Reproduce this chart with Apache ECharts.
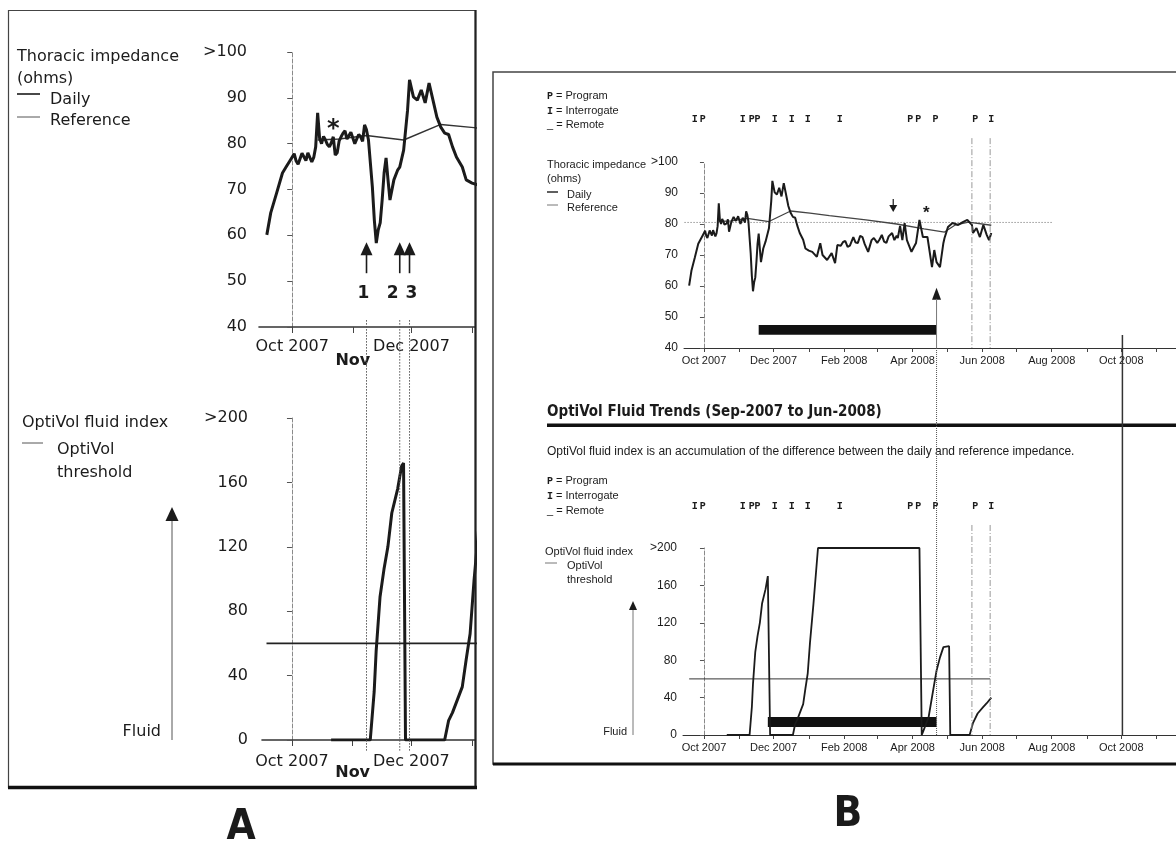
<!DOCTYPE html>
<html><head><meta charset="utf-8">
<script src="https://cdn.jsdelivr.net/npm/echarts@6/dist/echarts.min.js"></script>
<style>html,body{margin:0;padding:0;background:#fff}#c{width:1176px;height:848px}</style>
</head><body><div id="c"></div>
<script>
// ---------------- DATA ----------------
const monthTickDates = ['2007-10-01','2007-11-01','2007-12-01','2008-01-01','2008-02-01','2008-03-01','2008-04-01','2008-05-01','2008-06-01','2008-07-01','2008-08-01','2008-09-01','2008-10-01','2008-11-01'];
const panelALabels = [['2007-10-01','Oct 2007'],['2007-11-01','Nov'],['2007-12-01','Dec 2007']];
const panelBLabels = [['2007-10-01','Oct 2007'],['2007-12-01','Dec 2007'],['2008-02-01','Feb 2008'],['2008-04-01','Apr 2008'],['2008-06-01','Jun 2008'],['2008-08-01','Aug 2008'],['2008-10-01','Oct 2008']];

const dailyImpedance = [
 ['2007-09-18',60.1],['2007-09-20',64.9],['2007-09-23',69.2],['2007-09-26',73.6],['2007-09-28',75.0],['2007-09-30',76.4],
 ['2007-10-01',77.1],['2007-10-02',77.8],['2007-10-03',76.2],['2007-10-04',75.5],['2007-10-05',75.8],['2007-10-06',77.9],
 ['2007-10-07',77.5],['2007-10-08',76.3],['2007-10-09',78.0],['2007-10-10',78.4],['2007-10-11',76.0],['2007-10-12',77.0],
 ['2007-10-13',79.3],['2007-10-14',86.7],['2007-10-15',81.2],['2007-10-16',80.0],['2007-10-17',81.6],['2007-10-18',80.8],
 ['2007-10-19',79.8],['2007-10-20',79.3],['2007-10-21',80.2],['2007-10-22',81.5],['2007-10-23',77.5],['2007-10-24',78.0],
 ['2007-10-25',80.6],['2007-10-26',81.5],['2007-10-27',82.3],['2007-10-28',82.8],['2007-10-29',81.0],['2007-10-30',81.2],
 ['2007-10-31',82.5],['2007-11-01',82.6],['2007-11-02',80.0],['2007-11-03',80.1],['2007-11-04',82.0],['2007-11-05',81.5],
 ['2007-11-06',80.5],['2007-11-07',84.1],['2007-11-08',83.0],['2007-11-09',80.8],['2007-11-11',70.5],['2007-11-12',63.3],
 ['2007-11-13',58.3],['2007-11-14',61.2],['2007-11-15',62.7],['2007-11-16',67.7],['2007-11-17',73.6],['2007-11-18',76.9],
 ['2007-11-19',72.1],['2007-11-20',67.7],['2007-11-22',72.1],['2007-11-24',74.3],['2007-11-25',74.9],['2007-11-27',78.6],
 ['2007-11-29',87.3],['2007-11-30',93.9],['2007-12-02',90.2],['2007-12-04',89.5],['2007-12-06',91.7],['2007-12-08',88.9],
 ['2007-12-10',93.2],['2007-12-12',89.5],['2007-12-14',85.8],['2007-12-16',83.6],['2007-12-18',82.3],['2007-12-20',82.0],
 ['2007-12-22',79.3],['2007-12-24',77.1],['2007-12-27',74.9],['2007-12-29',72.1],['2008-01-01',71.4],['2008-01-04',71.0],
 ['2008-01-08',69.4],['2008-01-11',73.8],['2008-01-13',70.0],['2008-01-17',68.4],['2008-01-21',70.6],['2008-01-24',67.4],
 ['2008-01-26',73.2],['2008-01-29',73.0],['2008-01-31',74.2],['2008-02-02',74.5],['2008-02-04',72.6],['2008-02-06',73.0],
 ['2008-02-09',75.8],['2008-02-11',74.0],['2008-02-13',73.9],['2008-02-15',76.2],['2008-02-17',75.8],['2008-02-19',73.5],
 ['2008-02-22',71.0],['2008-02-25',74.8],['2008-02-27',75.5],['2008-03-01',73.9],['2008-03-03',75.0],['2008-03-05',76.5],
 ['2008-03-07',74.3],['2008-03-09',73.9],['2008-03-11',76.0],['2008-03-14',77.1],['2008-03-16',74.8],['2008-03-18',76.2],
 ['2008-03-19',75.5],['2008-03-21',79.4],['2008-03-23',74.8],['2008-03-25',80.3],['2008-03-27',74.8],['2008-03-31',71.0],
 ['2008-04-02',72.5],['2008-04-04',73.9],['2008-04-07',81.3],['2008-04-10',75.8],['2008-04-14',75.8],['2008-04-18',66.1],
 ['2008-04-20',71.6],['2008-04-22',67.7],['2008-04-25',66.1],['2008-04-28',73.9],['2008-04-29',75.5],['2008-05-02',79.0],
 ['2008-05-06',80.3],['2008-05-11',79.7],['2008-05-15',80.6],['2008-05-19',81.3],['2008-05-23',79.7],['2008-05-24',77.1],
 ['2008-05-27',78.7],['2008-05-30',75.8],['2008-06-02',79.7],['2008-06-05',76.5],['2008-06-07',74.8],['2008-06-09',77.1]
];
const referenceImpedance = [
 ['2007-10-14',80.8],['2007-10-25',81.0],['2007-11-08',81.8],['2007-11-27',80.8],['2007-12-16',84.2],['2008-01-02',83.5],
 ['2008-01-19',82.7],['2008-02-20',81.3],['2008-03-18',80.0],['2008-04-11',78.4],['2008-04-29',77.4],['2008-05-08',79.6],
 ['2008-05-20',80.6],['2008-06-09',79.6]
];
const referenceLevel = [['2007-09-14',80.5],['2008-08-01',80.5]];

const fluidIndex = [
 ['2007-10-21',0],['2007-11-10',0],['2007-11-12',30],['2007-11-13',55],['2007-11-15',89],['2007-11-17',106],['2007-11-19',120],
 ['2007-11-21',141],['2007-11-24',156],['2007-11-26',170],['2007-11-27',172],['2007-11-28',0],['2007-12-18',0],['2007-12-20',12],
 ['2007-12-22',17],['2007-12-27',33],['2007-12-29',50],['2007-12-31',66],['2008-01-02',99],['2008-01-05',140],['2008-01-09',200],
 ['2008-04-07',200],['2008-04-09',0],['2008-04-10',3],['2008-04-15',19],['2008-04-20',55],['2008-04-22',69],['2008-04-25',83],
 ['2008-04-28',94],['2008-05-03',95],['2008-05-04',0],['2008-05-21',0],['2008-05-24',13],['2008-05-28',23],['2008-06-02',30],
 ['2008-06-05',34],['2008-06-09',40]
];
const fluidThreshold = [['2007-09-18',60],['2008-06-08',60]];

const sessions = [['2007-09-23','I'],['2007-09-30','P'],['2007-11-04','I'],['2007-11-12','P'],['2007-11-17','P'],['2007-12-02','I'],
 ['2007-12-17','I'],['2007-12-31','I'],['2008-01-28','I'],['2008-03-30','P'],['2008-04-06','P'],['2008-04-21','P'],['2008-05-26','P'],['2008-06-09','I']];
const sessionLines = ['2008-05-23','2008-06-08'];
const panelAEvents = [['2007-11-08','1'],['2007-11-25','2'],['2007-11-30','3']];
const treatmentBarImp = ['2007-11-18','2008-04-22',44.3,47.4];
const treatmentBarFluid = ['2007-11-26','2008-04-22',8.6,19.3];
const eventArrowB = ['2008-04-22',59.4];
const downArrowB = ['2008-03-15',88.1,83.9];
const asteriskA = ['2007-10-22',84.1];
const asteriskB = ['2008-04-13',84.5];
const laterLine = '2008-10-02';

// ---------------- HELPERS ----------------
const DAY0 = Date.UTC(2007,9,1);
function d(s){const p=s.split('-').map(Number);return Math.round((Date.UTC(p[0],p[1]-1,p[2])-DAY0)/86400000);}
const pts = a => a.map(r => [d(r[0]), r[1]]);
const INK = '#1b1b1b';
const FA = 'DejaVu Sans';
const FB = 'Liberation Sans';

function xAxisFor(gi,min,max,labels,st){
  const ticks = monthTickDates.map(d).filter(v=>v>=min&&v<=max);
  const map = {}; labels.forEach(l=>{map[d(l[0])]=l[1];});
  return {type:'value',gridIndex:gi,min,max,
    axisLine:{show:true,onZero:false,lineStyle:{color:'#333',width:st.aw}},
    axisTick:{show:true,length:st.tl,customValues:ticks,lineStyle:{color:'#444',width:1}},
    axisLabel:{show:true,customValues:Object.keys(map).map(Number),hideOverlap:false,
      formatter:v=>{const t=map[Math.round(v)];if(t===undefined)return '';return t==='Nov'?'{nov|Nov}':t;},
      fontFamily:st.f,fontSize:st.fs,color:INK,margin:st.m,
      rich:{nov:{fontFamily:st.f,fontSize:st.fs,fontWeight:'bold',color:INK,padding:[st.np||0,0,0,0]}}},
    splitLine:{show:false}};
}
function yAxisFor(gi,min,max,interval,top,st){
  return {type:'value',gridIndex:gi,min,max,interval,
    axisLine:{show:true,lineStyle:{color:'#8a8a8a',type:'dashed',width:1}},
    axisTick:{show:true,length:st.tl,lineStyle:{color:'#555'}},
    axisLabel:{formatter:v=>v===max?top:String(v),fontFamily:st.f,fontSize:st.fs,color:INK,margin:st.m},
    splitLine:{show:false}};
}
function lineS(gi,data,w,color,extra){
  return Object.assign({type:'line',xAxisIndex:gi,yAxisIndex:gi,data,symbol:'none',showSymbol:false,silent:true,clip:true,
    lineStyle:{width:w,color:color},z:3},extra||{});
}
function barArea(b){return {silent:true,itemStyle:{color:'#111'},data:[[{coord:[d(b[0]),b[2]]},{coord:[d(b[1]),b[3]]}]]};}

const stA = {f:FA,fs:16,tl:6,m:12,aw:1.6,np:14};
const stA2 = {f:FA,fs:16,tl:6,m:14,aw:1.6,np:11};
const stB = {f:FB,fs:11,tl:4,m:7,aw:1};

const chart = echarts.init(document.getElementById('c'));
chart.setOption({
  animation:false, backgroundColor:'#fff',
  grid:[{left:259,top:52,width:216,height:275},{left:262,top:418,width:213,height:322},
        {left:684,top:162,width:492,height:186},{left:683,top:548,width:493,height:187}],
  xAxis:[xAxisFor(0,-17,93.5,panelALabels,stA),xAxisFor(1,-15.3,93.5,panelALabels,stA2),
         xAxisFor(2,-17.5,414,panelBLabels,stB),xAxisFor(3,-18.4,414,panelBLabels,stB)],
  yAxis:[yAxisFor(0,40,100,10,'>100',{f:FA,fs:16,tl:5,m:12}),yAxisFor(1,0,200,40,'>200',{f:FA,fs:16,tl:5,m:14}),
         yAxisFor(2,40,100,10,'>100',{f:FB,fs:12,tl:4,m:6}),yAxisFor(3,0,200,40,'>200',{f:FB,fs:12,tl:4,m:6})],
  series:[
    lineS(0,pts(referenceImpedance),1.5,'#333'),
    lineS(0,pts(dailyImpedance),3,INK),
    lineS(1,pts(fluidThreshold),1.6,'#222'),
    lineS(1,pts(fluidIndex),3,INK),
    lineS(2,pts(referenceLevel),1,'#666',{lineStyle:{width:1,color:'#666',type:[1,2]}}),
    lineS(2,pts(referenceImpedance),1.3,'#444'),
    lineS(2,pts(dailyImpedance),2,INK,{markArea:barArea(treatmentBarImp)}),
    lineS(3,pts(fluidThreshold),1,'#333'),
    lineS(3,pts(fluidIndex),1.8,INK,{markArea:barArea(treatmentBarFluid)})
  ]
});

// ---------------- ANNOTATIONS (positions via axis scales) ----------------
const P = (gi,date,val)=>chart.convertToPixel({xAxisIndex:gi,yAxisIndex:gi},[d(date),val]);
const g = [];
function L(x1,y1,x2,y2,st){g.push({type:'line',silent:true,z:10,shape:{x1,y1,x2,y2},style:Object.assign({stroke:INK,lineWidth:1},st||{})});}
function T(x,y,t,st){const s=Object.assign({text:t,fill:INK,textAlign:'left',align:'left',textVerticalAlign:'middle',verticalAlign:'middle'},st||{});
  if(s.textAlign){s.align=s.textAlign;} g.push({type:'text',silent:true,z:10,x,y,style:s});}
function Tri(pts,fill){g.push({type:'polygon',silent:true,z:10,shape:{points:pts},style:{fill:fill||INK}});}

// frames
g.push({type:'rect',silent:true,z:1,shape:{x:8.5,y:10.5,width:467,height:777},style:{fill:'none',stroke:'#444',lineWidth:1.2}});
L(475.5,10,475.5,788,{lineWidth:2.2,stroke:'#222'});
L(8,787.5,477,787.5,{lineWidth:3.5,stroke:'#111'});
g.push({type:'rect',silent:true,z:1,shape:{x:493,y:72,width:700,height:692},style:{fill:'none',stroke:'#444',lineWidth:1.5}});
L(493,764,1176,764,{lineWidth:3,stroke:'#111'});

// panel A legends
const fa = {fontFamily:FA,fontSize:16};
T(17,57,'Thoracic impedance',fa); T(17,79,'(ohms)',fa);
L(17,94,40,94,{lineWidth:1.6}); T(50,100,'Daily',fa);
L(17,117,40,117,{lineWidth:1,stroke:'#555'}); T(50,121,'Reference',fa);
T(22,423,'OptiVol fluid index',fa);
L(22,443,43,443,{lineWidth:1,stroke:'#555'}); T(57,450,'OptiVol',fa); T(57,473,'threshold',fa);
L(172,520,172,740,{lineWidth:1,stroke:'#555'}); Tri([[172,507],[165.5,521],[178.5,521]]);
T(161,732,'Fluid',Object.assign({textAlign:'right'},fa));

// panel A asterisk
{const p=P(0,asteriskA[0],asteriskA[1]); T(p[0],p[1]+5,'*',{fontFamily:FA,fontSize:24,fontWeight:'bold',textAlign:'center'});}
// panel A events (number labels nudged apart as in the original)
const eventLabelNudge = [-3,-7,2];
panelAEvents.forEach((e,i)=>{
  const tip=P(0,e[0],58.5); const x=tip[0];
  Tri([[x,tip[1]],[x-6,tip[1]+13],[x+6,tip[1]+13]]);
  L(x,tip[1]+12,x,tip[1]+31,{lineWidth:1.6});
  T(x+eventLabelNudge[i],tip[1]+51,e[1],{fontFamily:FA,fontSize:17,fontWeight:'bold',textAlign:'center'});
  const top=P(0,e[0],41.5)[1], bot=P(1,e[0],-7.5)[1];
  L(x,top,x,bot,{lineWidth:1,stroke:'#555',lineDash:[1.5,1.5]});
});

// panel B legends
const fb = {fontFamily:FB,fontSize:11};
const mono = {m:{fontFamily:'Liberation Mono',fontWeight:'bold',fontSize:10,fill:INK}};
[[96,481],[111,496],[125,511]].forEach((ys,i)=>{
  const txt = ['{m|P} = Program','{m|I} = Interrogate','_ = Remote'][i];
  ys.forEach(y=>T(547,y,txt,Object.assign({rich:mono},fb)));
});
T(547,165,'Thoracic impedance',fb); T(547,179,'(ohms)',fb);
L(547,192,558,192,{lineWidth:1.4}); T(567,195,'Daily',fb);
L(547,205,558,205,{lineWidth:1,stroke:'#777'}); T(567,208,'Reference',fb);
T(545,552,'OptiVol fluid index',fb);
L(545,563,557,563,{lineWidth:1,stroke:'#777'}); T(567,566,'OptiVol',fb); T(567,580,'threshold',fb);
L(633,608,633,735,{lineWidth:1,stroke:'#777'}); Tri([[633,601],[629,610],[637,610]]);
T(627,732,'Fluid',Object.assign({textAlign:'right'},fb));

// title block
T(547,412,'OptiVol Fluid Trends (Sep-2007 to Jun-2008)',{fontFamily:'Liberation Sans Narrow, DejaVu Sans Condensed, Liberation Sans',fontSize:15,fontWeight:'bold'});
g.push({type:'rect',silent:true,z:10,shape:{x:547,y:423.5,width:640,height:3.5},style:{fill:'#111'}});
T(547,452,'OptiVol fluid index is an accumulation of the difference between the daily and reference impedance.',{fontFamily:FB,fontSize:12});

// session letters
sessions.forEach(s=>{
  const x=P(2,s[0],40)[0];
  [119,506].forEach(y=>T(x,y,s[1],{fontFamily:'Liberation Mono',fontWeight:'bold',fontSize:10,textAlign:'center'}));
});
// session dashed lines
sessionLines.forEach(s=>{
  const a=P(2,s,107.7), b=P(2,s,40); L(a[0],a[1],b[0],b[1],{lineWidth:1,stroke:'#999',lineDash:[6,2,1,2]});
  const c=P(3,s,224.6), e=P(3,s,0); L(c[0],c[1],e[0],e[1],{lineWidth:1,stroke:'#999',lineDash:[6,2,1,2]});
});
// event arrow and long dotted line
{const tip=P(2,eventArrowB[0],eventArrowB[1]); const ax=P(2,eventArrowB[0],40); const bot=P(3,eventArrowB[0],0);
 Tri([[tip[0],tip[1]],[tip[0]-4.5,tip[1]+12],[tip[0]+4.5,tip[1]+12]]);
 L(tip[0],tip[1]+11,ax[0],ax[1],{lineWidth:1,stroke:'#777'});
 L(ax[0],ax[1],bot[0],bot[1],{lineWidth:1,stroke:'#555',lineDash:[1,1]});}
// down arrow
{const a=P(2,downArrowB[0],downArrowB[1]), b=P(2,downArrowB[0],downArrowB[2]);
 L(a[0],a[1],b[0],b[1]-6,{lineWidth:1.2}); Tri([[b[0],b[1]],[b[0]-4,b[1]-7],[b[0]+4,b[1]-7]]);}
// asterisk B
{const p=P(2,asteriskB[0],asteriskB[1]); T(p[0],p[1]+3,'*',{fontFamily:FB,fontSize:17,fontWeight:'bold',textAlign:'center'});}
// later solid line
{const a=P(2,laterLine,44.2), b=P(3,laterLine,0); L(a[0],a[1],b[0],b[1],{lineWidth:1.5,stroke:'#333'});}

// panel letters
T(241,828,'A',{fontFamily:'DejaVu Sans Condensed, Liberation Sans Narrow, DejaVu Sans',fontSize:42,fontWeight:'bold',textAlign:'center'});
T(848,815,'B',{fontFamily:'DejaVu Sans Condensed, Liberation Sans Narrow, DejaVu Sans',fontSize:42,fontWeight:'bold',textAlign:'center'});

chart.setOption({graphic:{elements:g}});
</script></body></html>
